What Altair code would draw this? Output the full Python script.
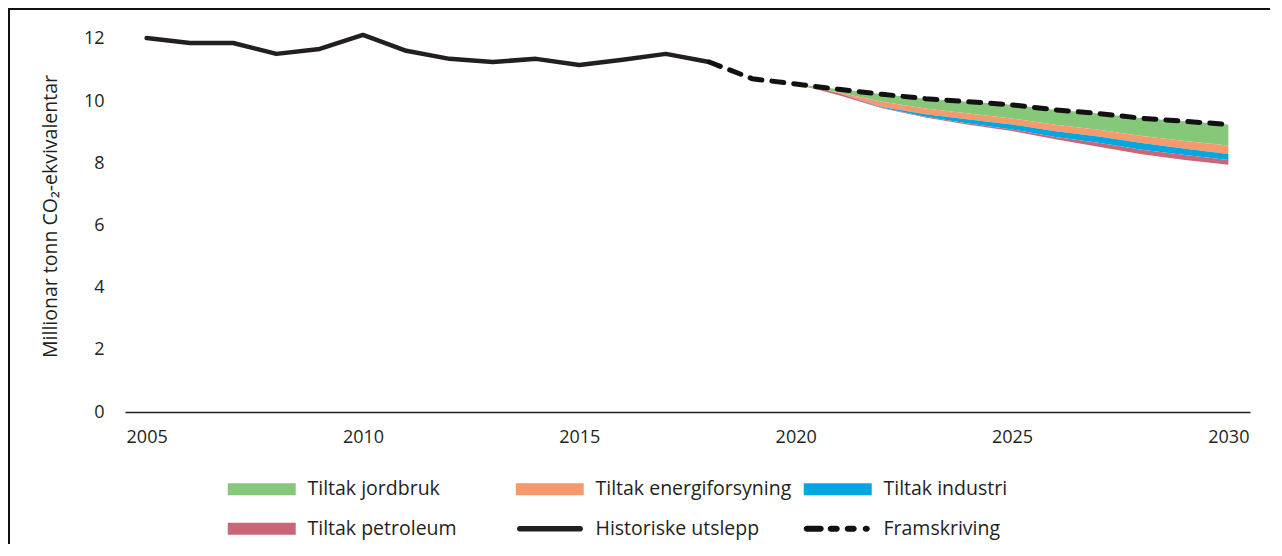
import altair as alt
import pandas as pd

# ---- data ----
years_hist = list(range(2005, 2019))
historiske = [12.03, 11.87, 11.87, 11.52, 11.68, 12.13, 11.62, 11.36, 11.26, 11.36, 11.16, 11.33, 11.52, 11.26]

years_proj = list(range(2018, 2031))
framskriving = [11.26, 10.72, 10.55, 10.38, 10.22, 10.08, 9.98, 9.88, 9.72, 9.60, 9.45, 9.35, 9.25]

years_tiltak = list(range(2020, 2031))
tiltak_jordbruk = [0.0, 0.10, 0.24, 0.32, 0.38, 0.44, 0.48, 0.52, 0.57, 0.63, 0.68]
tiltak_energi = [0.0, 0.03, 0.17, 0.18, 0.19, 0.19, 0.21, 0.22, 0.23, 0.25, 0.27]
tiltak_industri = [0.0, 0.00, 0.02, 0.08, 0.13, 0.16, 0.18, 0.20, 0.21, 0.20, 0.19]
tiltak_petroleum = [0.0, 0.06, 0.02, 0.03, 0.04, 0.05, 0.08, 0.13, 0.15, 0.16, 0.16]

series = ["Tiltak jordbruk", "Tiltak energiforsyning", "Tiltak industri",
          "Tiltak petroleum", "Historiske utslepp", "Framskriving"]
x_ticks = [2005, 2010, 2015, 2020, 2025, 2030]
y_ticks = [0, 2, 4, 6, 8, 10, 12]

# ---- styles ----
TXT = "#231f20"
FONT = "Open Sans"
colors = ["#86c87a", "#f59a6c", "#00a7e1", "#c96677", "#231f20", "#111111"]

# legend symbols: unit = 6 px (symbol size 144); swatch spans -1 .. 10.33 units (68 px)
SYM_SIZE = 144


def bar(a, b, h):
    return (f"M{a + h:.3f},{-h}H{b - h:.3f}A{h},{h} 0 0 1 {b - h:.3f},{h}"
            f"H{a + h:.3f}A{h},{h} 0 0 1 {a + h:.3f},{-h}Z")


rect_path = "M-1,-1H10.33V1H-1Z"
solid_path = bar(-0.8, 10.2, 0.45)
dash_path = (bar(-1.0, 2.33, 0.5) + bar(3.0, 5.0, 0.5) + bar(5.83, 7.83, 0.5)
             + bar(8.83, 10.0, 0.5))
shapes = [rect_path, rect_path, rect_path, rect_path, solid_path, dash_path]

# ---- tables ----
hist_df = pd.DataFrame({"year": years_hist, "value": historiske})
proj_df = pd.DataFrame({"year": years_proj, "value": framskriving})

rows = []
proj_map = dict(zip(years_proj, framskriving))
for i, yr in enumerate(years_tiltak):
    top = proj_map[yr]
    for name, vals in zip(series[:4], [tiltak_jordbruk, tiltak_energi, tiltak_industri, tiltak_petroleum]):
        bottom = top - vals[i]
        rows.append({"year": yr, "serie": name, "value": top, "value2": bottom})
        top = bottom
area_df = pd.DataFrame(rows)
legend_df = pd.DataFrame({"year": [2020] * 6, "value": [0] * 6, "serie": series})
frame_df = pd.DataFrame({"a": [0]})

# ---- encodings ----
x_enc = alt.X("year:Q",
              scale=alt.Scale(domain=[2004.5, 2030.5], nice=False, zero=False),
              axis=alt.Axis(values=x_ticks, format="d", title=None, ticks=False, grid=False,
                            domainColor=TXT, domainWidth=1.5, labelFont=FONT, labelFontSize=18,
                            labelColor=TXT, labelPadding=16, labelFlush=False))
y_enc = alt.Y("value:Q",
              scale=alt.Scale(domain=[0, 12.61], nice=False),
              axis=alt.Axis(values=y_ticks, title="Millionar tonn CO₂-ekvivalentar", ticks=False,
                            grid=False, domain=False, labelFont=FONT, labelFontSize=18,
                            labelColor=TXT, labelPadding=21, titleFont=FONT, titleFontSize=19.5,
                            titleFontWeight="normal", titleColor=TXT, titleAngle=270,
                            titleAlign="center", titleBaseline="middle", titleX=-75, titleY=196))

legend = alt.Legend(title=None, orient="none", legendX=99, legendY=459, direction="horizontal",
                    columns=3, gridAlign="all", columnPadding=8, rowPadding=19,
                    symbolSize=SYM_SIZE, symbolStrokeWidth=0, symbolOpacity=1,
                    labelFont=FONT, labelFontSize=19.5, labelColor=TXT, labelOffset=64,
                    labelLimit=400, padding=0)
color_enc = alt.Color("serie:N", scale=alt.Scale(domain=series, range=colors), legend=legend)
shape_enc = alt.Shape("serie:N", scale=alt.Scale(domain=series, range=shapes), legend=legend)

areas = alt.Chart(area_df).mark_area(opacity=1, interpolate="linear").encode(
    x=x_enc, y=y_enc, y2="value2:Q", color=color_enc, detail="serie:N")

hist_line = alt.Chart(hist_df).mark_line(color="#231f20", strokeWidth=4.5, strokeCap="round",
                                         strokeJoin="round").encode(x=x_enc, y=y_enc)
proj_line = alt.Chart(proj_df).mark_line(color="#111111", strokeWidth=5, strokeCap="round",
                                         strokeDash=[12, 10]).encode(x=x_enc, y=y_enc)

legend_pts = alt.Chart(legend_df).transform_filter("false").mark_point(
    filled=True, opacity=1, size=SYM_SIZE).encode(x=x_enc, y=y_enc, color=color_enc, shape=shape_enc)

frame = alt.Chart(frame_df).mark_rect(color="white", fillOpacity=0, stroke="#111111",
                                      strokeWidth=2).encode(
    x=alt.value(-116), x2=alt.value(1400), y=alt.value(-11), y2=alt.value(700))

chart = alt.layer(areas, hist_line, proj_line, legend_pts, frame).properties(
    width=1125, height=392,
    autosize=alt.AutoSizeParams(type="none"),
    padding={"left": 117, "top": 12, "right": 20, "bottom": 132},
    background="white",
).configure_view(strokeWidth=0)

chart.save("out.html", embed_options={"renderer": "svg", "actions": False})
